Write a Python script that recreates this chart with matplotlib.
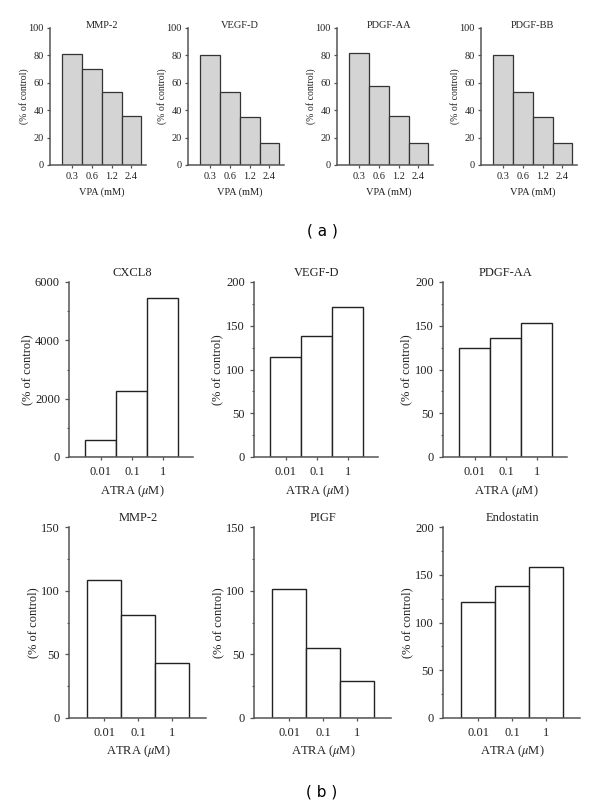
import matplotlib
matplotlib.use('Agg')
import matplotlib.pyplot as plt
from matplotlib.ticker import MultipleLocator

plt.rcParams['font.family'] = ['Liberation Serif', 'DejaVu Serif']
plt.rcParams['mathtext.fontset'] = 'stix'

# (a) VPA data
vpa_doses = ['0.3', '0.6', '1.2', '2.4']
vpa_names = ['MMP-2', 'VEGF-D', 'PDGF-AA', 'PDGF-BB']
vpa_mmp2 = [81, 70, 53, 36]
vpa_vegfd = [80, 53, 35, 16]
vpa_pdgfaa = [82, 58, 36, 16]
vpa_pdgfbb = [80, 53, 35, 16]
vpa_values = [vpa_mmp2, vpa_vegfd, vpa_pdgfaa, vpa_pdgfbb]

# (b) ATRA data
atra_doses = ['0.01', '0.1', '1']
atra_names = ['CXCL8', 'VEGF-D', 'PDGF-AA', 'MMP-2', 'PIGF', 'Endostatin']
atra_cxcl8 = [570, 2270, 5460]
atra_vegfd = [114, 138, 171]
atra_pdgfaa = [125, 136, 153]
atra_mmp2 = [108, 81, 43]
atra_pigf = [101, 55, 29]
atra_endostatin = [121, 138, 158]
atra_values = [atra_cxcl8, atra_vegfd, atra_pdgfaa, atra_mmp2, atra_pigf, atra_endostatin]
atra_ylims = [6000, 200, 200, 150, 150, 200]
atra_major = [2000, 50, 50, 50, 50, 50]
atra_minor = [1000, 25, 25, 25, 25, 25]

W, H = 600, 808
fig = plt.figure(figsize=(6, 8.08), dpi=100)

def box(x0, y0, x1, y1):
    return [x0 / W, 1 - y1 / H, (x1 - x0) / W, (y1 - y0) / H]

spine_col = '#555555'
txt_col = '#222222'

def style(ax, fs):
    for s in ['top', 'right']:
        ax.spines[s].set_visible(False)
    for s in ['left', 'bottom']:
        ax.spines[s].set_color(spine_col)
        ax.spines[s].set_linewidth(1.1)
    ax.tick_params(colors=spine_col, labelcolor=txt_col, labelsize=fs,
                   direction='out', length=3, width=0.9)

# panel (a)
a_left = [50, 188, 337, 481]
for i in range(4):
    ax = fig.add_axes(box(a_left[i], 28, a_left[i] + 96, 165))
    x = range(len(vpa_doses))
    ax.bar(x, vpa_values[i], width=1.0, color='#d4d4d4', edgecolor='#333333', linewidth=0.9)
    xmin, xmax = -1.13, 3.74
    ax.set_xlim(xmin, xmax)
    ax.set_ylim(0, 100)
    ax.set_yticks([0, 20, 40, 60, 80, 100])
    ax.set_xticks(list(x))
    ax.set_xticklabels(vpa_doses)
    style(ax, 7.5)
    ax.tick_params(axis='x', length=2, pad=3)
    ax.tick_params(axis='y', length=2.5, pad=2)
    cx = (1.5 - xmin) / (xmax - xmin)
    ax.text(cx, 1.02, vpa_names[i], transform=ax.transAxes,
            ha='center', va='center', fontsize=7.5, color=txt_col)
    ax.set_xlabel('VPA (mM)', fontsize=7.5, color=txt_col)
    ax.xaxis.set_label_coords(cx, -0.16)
    ax.set_ylabel('(% of control)', fontsize=7, color=txt_col)
    ax.yaxis.set_label_coords(-0.22, 0.5)

fig.text(322 / W, 1 - 231 / H, '( a )', ha='center', va='center', fontsize=11,
         family=['DejaVu Sans'])

# panel (b)
b_left = [69, 254, 443]
b_rows = [(282, 457, 124, 2.97), (527, 718, 137, 3.0)]
for i in range(6):
    r = i // 3
    top, bottom, width, xmax = b_rows[r]
    x0 = b_left[i % 3]
    ax = fig.add_axes(box(x0, top, x0 + width, bottom))
    x = range(len(atra_doses))
    ax.bar(x, atra_values[i], width=1.0, color='white', edgecolor=txt_col, linewidth=1.0)
    xmin = -1.03
    ax.set_xlim(xmin, xmax)
    ax.set_ylim(0, atra_ylims[i])
    ax.yaxis.set_major_locator(MultipleLocator(atra_major[i]))
    ax.yaxis.set_minor_locator(MultipleLocator(atra_minor[i]))
    ax.set_xticks(list(x))
    ax.set_xticklabels(atra_doses)
    style(ax, 9)
    ax.tick_params(axis='y', which='minor', length=1.8, width=0.8, colors=spine_col)
    ax.tick_params(axis='x', length=2.5, pad=4)
    cx = (1 - xmin) / (xmax - xmin)
    ax.set_title(atra_names[i], fontsize=9, color=txt_col, pad=4, x=cx)
    ax.set_xlabel(r'ATRA ($\mu$M)', fontsize=9, color=txt_col)
    ax.xaxis.set_label_coords(cx, -0.15 if r == 0 else -0.13)
    ax.set_ylabel('(% of control)', fontsize=9, color=txt_col)
    if i == 0:
        ylx = -0.29
    elif r == 0:
        ylx = -0.25
    else:
        ylx = -0.22
    ax.yaxis.set_label_coords(ylx, 0.5)

fig.text(322 / W, 1 - 792 / H, '( b )', ha='center', va='center', fontsize=11,
         family=['DejaVu Sans'])

fig.savefig('out.png', dpi=100, facecolor='white')
